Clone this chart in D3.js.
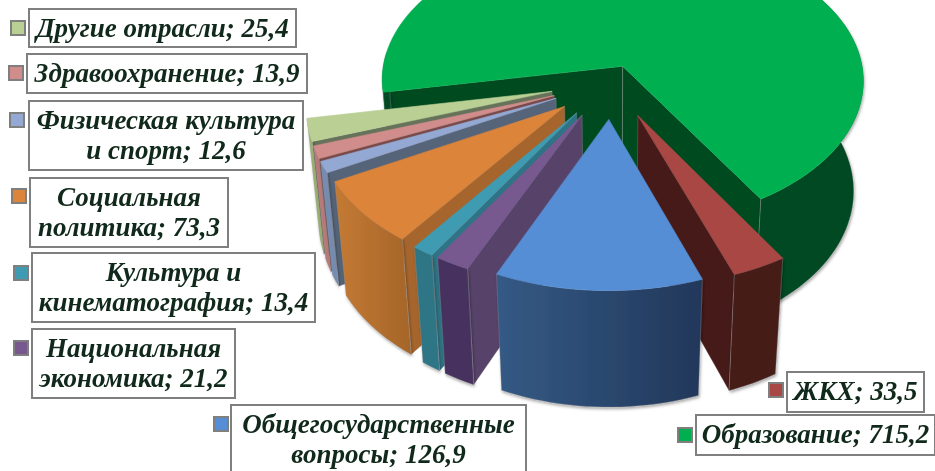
<!DOCTYPE html>
<html>
<head>
<meta charset="utf-8">
<script src="https://cdn.jsdelivr.net/npm/d3@7"></script>
<style>
  html, body { margin: 0; padding: 0; background: #fff; overflow: hidden; }
  svg { display: block; filter: blur(0.35px); }
  text { font-family: "Liberation Serif", serif; font-weight: bold; font-style: italic; fill: #10291a; }
</style>
</head>
<body>
<div id="chart"></div>
<script>
// Budget shares, clockwise starting from the big slice
const categories = ['Образование', 'ЖКХ', 'Общегосударственные вопросы', 'Национальная экономика',
  'Культура и кинематография', 'Социальная политика', 'Физическая культура и спорт', 'Здравоохранение', 'Другие отрасли'];
const values = [715.2, 33.5, 126.9, 21.2, 13.4, 73.3, 12.6, 13.9, 25.4];

// how far each slice is pulled out of the pie
const explode = [0.12, 0.25, 0.25, 0.25, 0.25, 0.25, 0.25, 0.25, 0.25];

const topColors = ['#00b050', '#a94744', '#558ed5', '#77598f', '#3f9bb1', '#dd843b', '#93a9d3', '#d18d8b', '#b9cf93'];
const wallColors = ['#004a20', '#451a18', '#22375a', '#574269', '#2e7486', '#a6652c', '#556478', '#7a4a4a', '#66735a'];
const outerFrom = ['#004a20', '#451a18', '#345a85', '#46315e', '#2e7486', '#c47a33', '#768bb0', '#b87a78', '#9bb070'];
const outerTo = ['#004a20', '#451a18', '#22375a', '#46315e', '#2e7486', '#a5652a', '#768bb0', '#b87a78', '#9bb070'];

// label boxes: lines of text plus where the box sits
const labelLines = [
  ['Образование'], ['ЖКХ'], ['Общегосударственные', 'вопросы'], ['Национальная', 'экономика'],
  ['Культура и', 'кинематография'], ['Социальная', 'политика'], ['Физическая культура', 'и спорт'],
  ['Здравоохранение'], ['Другие отрасли']
];
const labelBoxes = [
  [696, 415, 239, 40], [787, 372, 137, 40], [231, 405, 295, 72], [32, 329, 203, 69],
  [32, 253, 283, 69], [30, 178, 198, 69], [29, 101, 274, 69], [27, 54, 280, 39], [29, 9, 267, 38]
];
const swatches = [
  [678, 428], [769, 383], [214, 417], [14, 341], [14, 266], [12, 189], [10, 113], [9, 66], [11, 21]
];

const width = 935;
const height = 471;

const svg = d3.select('#chart').append('svg')
  .attr('width', width)
  .attr('height', height);

const defs = svg.append('defs');

defs.append('filter').attr('id', 'wallShadow')
  .attr('x', '-10%').attr('y', '-10%').attr('width', '120%').attr('height', '120%')
  .append('feDropShadow')
  .attr('dx', 1).attr('dy', 2).attr('stdDeviation', 1.5)
  .attr('flood-color', '#000').attr('flood-opacity', 0.35);

// camera: top face at z = 0, bottom of the pie at z = 1
const project = (u, v, z) => {
  const w = 1 - 0.1 * v + 0.04 * z;
  return [611 + 242 * u / w, 82 + (146 * v + 115 * z) / w];
};

const line = d3.line();
const deg = Math.PI / 180;

const pie = d3.pie().sort(null)
  .startAngle(-100.3 * deg)
  .endAngle(259.7 * deg);

const slices = pie(values).map((d, i) => ({
  ...d,
  i,
  mid: (d.startAngle + d.endAngle) / 2
}));

slices.sort((a, b) => d3.ascending(-Math.cos(a.mid), -Math.cos(b.mid)));

slices.forEach(d => {
  const e = explode[d.i];
  const ox = e * Math.sin(d.mid);
  const oy = -e * Math.cos(d.mid);
  const steps = Math.max(4, Math.ceil((d.endAngle - d.startAngle) / (2 * deg)));
  const angles = d3.range(steps + 1).map(k => d.startAngle + (d.endAngle - d.startAngle) * k / steps);
  const toPoint = a => [ox + Math.sin(a), oy - Math.cos(a)];
  const arcPts = angles.map(toPoint);
  const at = z => p => project(p[0], p[1], z);
  const tip = [ox, oy];
  const first = arcPts[0];
  const last = arcPts[arcPts.length - 1];

  const g = svg.append('g');

  // only the radial walls that face the camera get drawn
  const wall = (a, b, sign) => {
    const pts = [at(0)(a), at(0)(b), at(1)(b), at(1)(a)];
    if (d3.polygonArea(pts) * sign <= 0) return;
    g.append('path')
      .attr('d', line(pts) + 'Z')
      .attr('fill', wallColors[d.i])
      .attr('stroke', '#9a9a9a')
      .attr('stroke-opacity', 0.45)
      .attr('stroke-width', 0.7);
  };

  wall(tip, first, 1);
  wall(tip, last, -1);

  const gradId = 'outer' + d.i;
  const grad = defs.append('linearGradient').attr('id', gradId);
  grad.append('stop').attr('offset', '0%').attr('stop-color', outerFrom[d.i]);
  grad.append('stop').attr('offset', '100%').attr('stop-color', outerTo[d.i]);

  // outer wall only where the rim can show, the far side stays under the top face
  const rimShows = a => Math.cos(a) < (a > 0 ? 0.6 : 0.1);
  const runs = [];
  let run = null;
  angles.forEach(a => {
    if (rimShows(a)) {
      if (!run) runs.push(run = []);
      run.push(toPoint(a));
    } else {
      run = null;
    }
  });

  runs.forEach(pts => {
    g.append('path')
      .attr('d', line(pts.map(at(0)).concat(pts.slice().reverse().map(at(1)))) + 'Z')
      .attr('fill', `url(#${gradId})`)
      .attr('stroke', '#9a9a9a')
      .attr('stroke-opacity', 0.45)
      .attr('stroke-width', 0.7)
      .attr('filter', 'url(#wallShadow)');
  });

  g.append('path')
    .attr('d', line([tip].concat(arcPts).map(at(0))) + 'Z')
    .attr('fill', topColors[d.i])
    .attr('stroke', topColors[d.i])
    .attr('stroke-width', 0.6);
});

// labels
const fmt = d3.formatLocale({ decimal: ',', thousands: ' ', grouping: [3], currency: ['', ''] }).format('.1f');
const lineHeight = 30;

categories.forEach((name, i) => {
  const [bx, by, bw, bh] = labelBoxes[i];
  const [sx, sy] = swatches[i];

  svg.append('rect')
    .attr('x', sx).attr('y', sy).attr('width', 14).attr('height', 14)
    .attr('fill', topColors[i])
    .attr('stroke', '#7f7f7f')
    .attr('stroke-width', 2);

  svg.append('rect')
    .attr('x', bx).attr('y', by).attr('width', bw).attr('height', bh)
    .attr('fill', '#fff')
    .attr('stroke', '#7f7f7f')
    .attr('stroke-width', 2);

  const lines = labelLines[i].slice();
  lines[lines.length - 1] += '; ' + fmt(values[i]);
  const text = svg.append('text')
    .attr('text-anchor', 'middle')
    .attr('font-size', 27);
  lines.forEach((t, k) => {
    text.append('tspan')
      .attr('x', bx + bw / 2)
      .attr('y', by + 28 + k * lineHeight)
      .text(t);
  });
});
</script>
</body>
</html>
